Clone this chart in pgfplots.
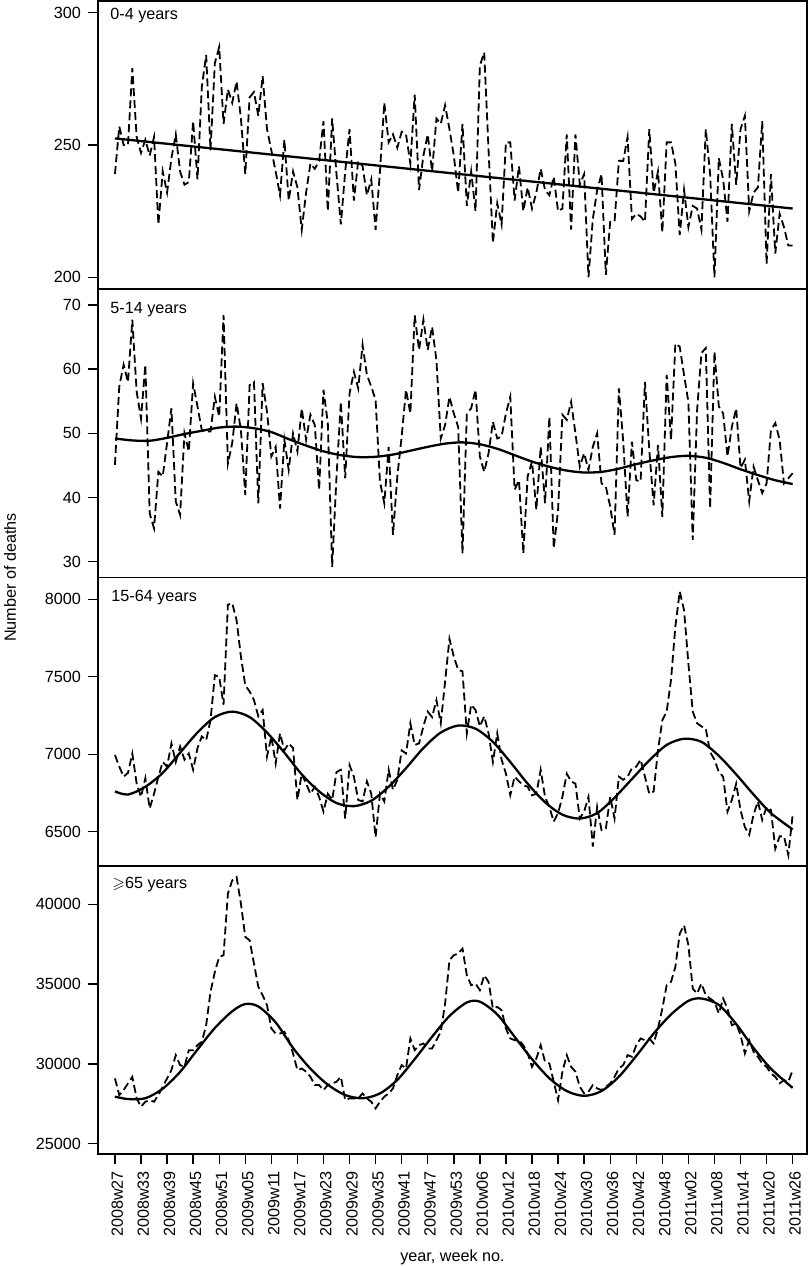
\documentclass[border=0pt]{standalone}
\usepackage{fontspec}
\setmainfont{Liberation Sans}
\usepackage{amssymb}
\usepackage{pgfplots}
\pgfplotsset{compat=1.18}
\newcommand{\lf}{\fontsize{8.1}{9.7}\selectfont}
\pgfplotsset{
  panel/.style={
    width=354.5pt, height=144.125pt, scale only axis,
    anchor=north west,
    xmin=-3.9, xmax=159.3,
    axis line style={line width=0.95pt},
    every tick/.style={line width=0.7pt, black},
    tick align=outside, major tick length=5pt,
    xtick pos=bottom, ytick pos=left,
    scaled y ticks=false,
    /pgf/number format/assume math mode=true,
    /pgf/number format/1000 sep={},
    ticklabel style={font=\lf},
    clip=true,
  },
  raw/.style={black, line width=0.9pt, dash pattern=on 4pt off 2pt},
  trend/.style={black, line width=1.15pt, smooth},
}
\begin{document}
\begin{tikzpicture}
\path[use as bounding box] (0,0) rectangle (405pt,-633pt);
% ---------- Panel 1 ----------
\begin{axis}[panel, at={(49pt,-0.5pt)}, ymin=195.5, ymax=304.4, ytick={200,250,300}, xtick=\empty]
\addplot[raw] coordinates {(0,239)(1,257)(2,250)(3,250)(4,279)(5,253)(6,247)(7,252)(8,246)(9,253)(10,220)(11,240)(12,232)(13,245)(14,254)(15,240)(16,235)(17,236)(18,259)(19,237)(20,272)(21,284)(22,248)(23,281)(24,287)(25,258)(26,271)(27,266)(28,274)(29,260)(30,239)(31,268)(32,270)(33,261)(34,276)(35,256)(36,248)(37,240)(38,231)(39,252)(40,229)(41,240)(42,234)(43,218)(44,232)(45,243)(46,241)(47,244)(48,259)(49,225)(50,260)(51,239)(52,220)(53,240)(54,256)(55,229)(56,244)(57,242)(58,231)(59,237)(60,218)(61,240)(62,266)(63,251)(64,254)(65,249)(66,255)(67,254)(68,243)(69,269)(70,233)(71,246)(72,254)(73,240)(74,260)(75,258)(76,265)(77,256)(78,246)(79,232)(80,258)(81,227)(82,240)(83,225)(84,280)(85,285)(86,248)(87,213)(88,228)(89,220)(90,251)(91,251)(92,229)(93,242)(94,225)(95,234)(96,226)(97,232)(98,241)(99,233)(100,231)(101,238)(102,225)(103,226)(104,254)(105,218)(106,254)(107,235)(108,239)(109,200)(110,222)(111,233)(112,239)(113,201)(114,221)(115,221)(116,244)(117,244)(118,253)(119,222)(120,224)(121,223)(122,221)(123,256)(124,232)(125,240)(126,217)(127,251)(128,251)(129,243)(130,216)(131,233)(132,219)(133,227)(134,226)(135,218)(136,256)(137,239)(138,200)(139,245)(140,237)(141,221)(142,258)(143,235)(144,256)(145,261)(146,225)(147,232)(148,234)(149,259)(150,205)(151,239)(152,209)(153,224)(154,219)(155,212)(156,212)};
\addplot[trend] coordinates {(0,252.5)(156,226)};
\node[anchor=north west, inner sep=0pt, font=\lf] at (rel axis cs:0,1) [xshift=6pt, yshift=-3.2pt] {0-4 years};
\end{axis}
% ---------- Panel 2 ----------
\begin{axis}[panel, at={(49pt,-144.625pt)}, ymin=27.54, ymax=72.45, ytick={30,40,50,60,70}, xtick=\empty]
\addplot[raw] coordinates {(0,45.1)(1,57.3)(2,60.7)(3,58)(4,67.7)(5,56.5)(6,52.3)(7,60.7)(8,37.5)(9,35.2)(10,44)(11,43.3)(12,48.5)(13,53.9)(14,39.4)(15,37.3)(16,50)(17,47.2)(18,57.8)(19,54.2)(20,50.5)(21,50.3)(22,50.3)(23,55.7)(24,52.6)(25,68.4)(26,45.3)(27,48.5)(28,54.7)(29,50.5)(30,40.4)(31,57.5)(32,58)(33,39.1)(34,57.8)(35,53.4)(36,46.4)(37,47.9)(38,38.3)(39,49)(40,44.3)(41,50)(42,47.2)(43,53.9)(44,49)(45,52.9)(46,51.3)(47,41.2)(48,56.8)(49,51.6)(50,29.2)(51,43.3)(52,54.9)(53,43)(54,56.2)(55,59.6)(56,57)(57,63.8)(58,59.1)(59,57.3)(60,55.2)(61,42.5)(62,39.1)(63,47.9)(64,34.2)(65,43.3)(66,49.5)(67,56.8)(68,53.1)(69,68.4)(70,63)(71,67.7)(72,63)(73,66.6)(74,61.4)(75,49.2)(76,51.3)(77,55.7)(78,53.1)(79,51)(80,31.3)(81,53.1)(82,53.9)(83,56.8)(84,46.4)(85,44)(86,46.9)(87,51.8)(88,49.2)(89,49.5)(90,53.1)(91,55.7)(92,41.2)(93,42.7)(94,31.3)(95,43.3)(96,45.6)(97,38.1)(98,47.9)(99,39.1)(100,52.6)(101,32.1)(102,38)(103,52.9)(104,52.1)(105,54.9)(106,50)(107,44.8)(108,46.9)(109,44.3)(110,47.9)(111,50)(112,42.2)(113,41.7)(114,38.6)(115,34.2)(116,57)(117,48.7)(118,37)(119,48.7)(120,42.7)(121,42.5)(122,58)(123,47.4)(124,38.8)(125,48.2)(126,37)(127,59.1)(128,49)(129,64)(130,63.5)(131,59.1)(132,54.9)(133,33.4)(134,53.6)(135,62.5)(136,63.3)(137,38.3)(138,62.7)(139,54.2)(140,53.1)(141,46.4)(142,51)(143,53.9)(144,44.6)(145,45.9)(146,39.4)(147,44.8)(148,42.7)(149,40.7)(150,42.2)(151,50.5)(152,51.6)(153,49)(154,42.2)(155,43)(156,43.8)};
\addplot[trend] coordinates {(0,49.2)(4,48.9)(8,48.85)(12,49.3)(16,49.9)(20,50.4)(24,50.9)(28,51.05)(32,50.8)(36,50.2)(40,49.1)(44,48.1)(48,47.2)(52,46.6)(56,46.3)(60,46.35)(64,46.7)(68,47.3)(72,47.9)(76,48.4)(80,48.6)(84,48.3)(88,47.6)(92,46.6)(96,45.6)(100,44.8)(104,44.2)(108,43.9)(112,44.0)(116,44.5)(120,45.2)(124,45.8)(128,46.3)(132,46.5)(136,46.2)(140,45.4)(144,44.4)(148,43.5)(152,42.7)(156,42.1)};
\node[anchor=north west, inner sep=0pt, font=\lf] at (rel axis cs:0,1) [xshift=6pt, yshift=-6.5pt] {5-14 years};
\end{axis}
% ---------- Panel 3 ----------
\begin{axis}[panel, at={(49pt,-288.75pt)}, ymin=6280.2, ymax=8140.7, ytick={6500,7000,7500,8000}, xtick=\empty]
\addplot[raw] coordinates {(0,6995)(1,6920)(2,6855)(3,6880)(4,7005)(5,6810)(6,6725)(7,6845)(8,6650)(9,6745)(10,6855)(11,6950)(12,6920)(13,7070)(14,6950)(15,7050)(16,6965)(17,7005)(18,6900)(19,7040)(20,7115)(21,7090)(22,7220)(23,7510)(24,7500)(25,7320)(26,7965)(27,7975)(28,7865)(29,7630)(30,7445)(31,7405)(32,7350)(33,7245)(34,7285)(35,6985)(36,7115)(37,6940)(38,7135)(39,7025)(40,7070)(41,7040)(42,6705)(43,6875)(44,6810)(45,6745)(46,6790)(47,6725)(48,6630)(49,6745)(50,6705)(51,6885)(52,6900)(53,6585)(54,6930)(55,6855)(56,6705)(57,6695)(58,6825)(59,6745)(60,6465)(61,6745)(62,6695)(63,6900)(64,6770)(65,6835)(66,7025)(67,7005)(68,7200)(69,7060)(70,7070)(71,7180)(72,7275)(73,7240)(74,7350)(75,7200)(76,7470)(77,7745)(78,7630)(79,7545)(80,7535)(81,7135)(82,7320)(83,7285)(84,7180)(85,7245)(86,7135)(87,6950)(88,7135)(89,6965)(90,6875)(91,6735)(92,6855)(93,6825)(94,6800)(95,6790)(96,6735)(97,6745)(98,6900)(99,6725)(100,6660)(101,6565)(102,6620)(103,6725)(104,6875)(105,6825)(106,6810)(107,6585)(108,6630)(109,6725)(110,6405)(111,6660)(112,6510)(113,6520)(114,6725)(115,6585)(116,6855)(117,6835)(118,6855)(119,6910)(120,6920)(121,6965)(122,6855)(123,6745)(124,6760)(125,7025)(126,7220)(127,7275)(128,7480)(129,7825)(130,8050)(131,7930)(132,7585)(133,7275)(134,7200)(135,7180)(136,7165)(137,7015)(138,6965)(139,6885)(140,6855)(141,6630)(142,6705)(143,6810)(144,6640)(145,6530)(146,6480)(147,6610)(148,6695)(149,6575)(150,6660)(151,6640)(152,6390)(153,6470)(154,6470)(155,6350)(156,6610)};
\addplot[trend] coordinates {(0,6760)(3,6740)(7,6790)(11,6880)(15,7010)(19,7140)(23,7240)(27,7275)(31,7240)(35,7140)(39,7010)(43,6870)(47,6760)(51,6685)(55,6665)(59,6700)(63,6790)(67,6910)(71,7040)(75,7140)(79,7185)(83,7165)(87,7080)(91,6950)(95,6810)(99,6690)(103,6610)(107,6585)(111,6620)(115,6720)(119,6840)(123,6960)(127,7060)(131,7100)(135,7080)(139,6990)(143,6870)(147,6740)(151,6620)(156,6515)};
\node[anchor=north west, inner sep=0pt, font=\lf] at (rel axis cs:0,1) [xshift=6.5pt, yshift=-6pt] {15-64 years};
\end{axis}
% ---------- Panel 4 ----------
\begin{axis}[panel, at={(49pt,-432.875pt)}, ymin=24355, ymax=42415, ytick={25000,30000,35000,40000},
  xtick={0,6,...,156},
  xticklabels={2008w27,2008w33,2008w39,2008w45,2008w51,2009w05,2009w11,2009w17,2009w23,2009w29,2009w35,2009w41,2009w47,2009w53,2010w06,2010w12,2010w18,2010w24,2010w30,2010w36,2010w42,2010w48,2011w02,2011w08,2011w14,2011w20,2011w26},
  xticklabel style={rotate=90, anchor=east, yshift=-1.2pt}]
\addplot[raw] coordinates {(0,29090)(1,28050)(2,28360)(3,28780)(4,29190)(5,27840)(6,27320)(7,27630)(8,27730)(9,27630)(10,28050)(11,28570)(12,29090)(13,29610)(14,30550)(15,29925)(16,29820)(17,30860)(18,30860)(19,31175)(20,31385)(21,32430)(22,34515)(23,35765)(24,36705)(25,36810)(26,40670)(27,41500)(28,41710)(29,40040)(30,37955)(31,37750)(32,36290)(33,34830)(34,34300)(35,33680)(36,32220)(37,31905)(38,31905)(39,32010)(40,31490)(41,30655)(42,29610)(43,29715)(44,29510)(45,29195)(46,28675)(47,28675)(48,28360)(49,28675)(50,28780)(51,28880)(52,29195)(53,27735)(54,27840)(55,27840)(56,27840)(57,28150)(58,27840)(59,27630)(60,27215)(61,27630)(62,27945)(63,28150)(64,28465)(65,29300)(66,29925)(67,29715)(68,31595)(69,30865)(70,31175)(71,31280)(72,30965)(73,30965)(74,31490)(75,32010)(76,33790)(77,36495)(78,36810)(79,36910)(80,37225)(81,35555)(82,34930)(83,35035)(84,34620)(85,35555)(86,35140)(87,33470)(88,33575)(89,33365)(90,32220)(91,31595)(92,31490)(93,31490)(94,31175)(95,30655)(96,29820)(97,30340)(98,31175)(99,30130)(100,30030)(101,28880)(102,27735)(103,29510)(104,30550)(105,29820)(106,29510)(107,28570)(108,28150)(109,28255)(110,28675)(111,28465)(112,28360)(113,28570)(114,28780)(115,29195)(116,29715)(117,29925)(118,30550)(119,30445)(120,31175)(121,31595)(122,31490)(123,31595)(124,31280)(125,32220)(126,33470)(127,34930)(128,35140)(129,36080)(130,38165)(131,38685)(132,37435)(133,34720)(134,34410)(135,35035)(136,34305)(137,34095)(138,33890)(139,33160)(140,34095)(141,33470)(142,32430)(143,32530)(144,31800)(145,30655)(146,31490)(147,30760)(148,30445)(149,30030)(150,29820)(151,29405)(152,29195)(153,28780)(154,28985)(155,28880)(156,29610)};
\addplot[trend] coordinates {(0,27950)(3,27800)(7,27850)(11,28450)(15,29500)(19,30900)(23,32250)(27,33300)(30,33750)(33,33600)(37,32600)(41,31000)(45,29700)(49,28700)(53,28050)(57,27850)(61,28150)(65,29000)(69,30300)(73,31700)(77,33000)(81,33850)(84,33900)(88,33100)(92,31700)(96,30300)(100,29100)(104,28300)(108,28000)(112,28300)(116,29200)(120,30500)(124,31900)(128,33100)(132,33950)(135,34100)(139,33700)(143,32500)(147,31000)(151,29700)(156,28500)};
\node[anchor=north west, inner sep=0pt, font=\lf] at (rel axis cs:0,1) [xshift=7pt, yshift=-5.5pt] {$\geqslant$65 years};
\end{axis}
\node[rotate=90, anchor=base, inner sep=0pt, font=\lf] at (8pt,-288.75pt) {Number of deaths};
\node[anchor=base, inner sep=0pt, font=\lf] at (226.25pt,-630.5pt) {year, week no.};
\end{tikzpicture}
\end{document}
